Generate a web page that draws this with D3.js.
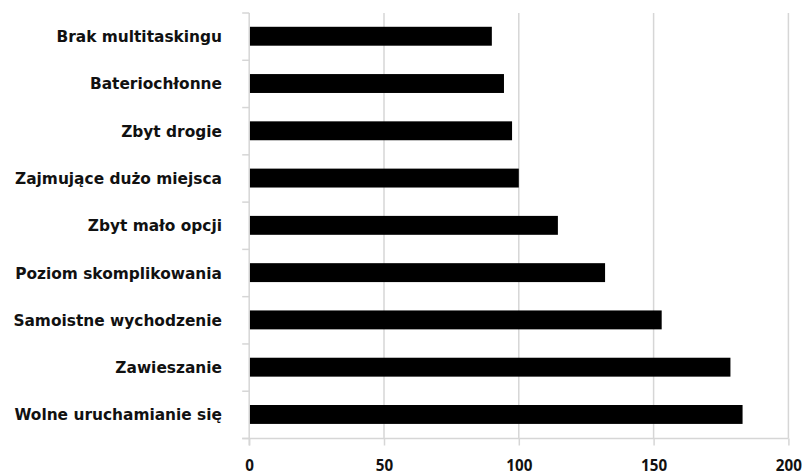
<!DOCTYPE html>
<html>
<head>
<meta charset="utf-8">
<script src="https://cdn.jsdelivr.net/npm/d3@7"></script>
<style>
  html, body { margin: 0; padding: 0; background: #fff; }
  svg { display: block; }
</style>
</head>
<body>
<script>
// Reasons listed from top to bottom
const categories = [
  "Brak multitaskingu",
  "Bateriochłonne",
  "Zbyt drogie",
  "Zajmujące dużo miejsca",
  "Zbyt mało opcji",
  "Poziom skomplikowania",
  "Samoistne wychodzenie",
  "Zawieszanie",
  "Wolne uruchamianie się"
];
const values = [90, 94.5, 97.5, 100, 114.5, 132, 153, 178.5, 183];
const xTicks = [0, 50, 100, 150, 200];

const W = 806, H = 475;
const plotLeft = 249.2, plotRight = 788.4, plotTop = 13, plotBottom = 438.5;

const svg = d3.select("body").append("svg")
  .attr("width", W).attr("height", H);

const x = d3.scaleLinear().domain([0, 200]).range([plotLeft, plotRight]);
const y = d3.scaleBand().domain(categories).range([plotTop, plotBottom])
  .paddingInner(0.6).paddingOuter(0.3);

const gridColor = "#d6d6d6";

// vertical gridlines
svg.append("g").selectAll("line")
  .data(xTicks.filter(d => d > 0))
  .join("line")
  .attr("x1", d => x(d)).attr("x2", d => x(d))
  .attr("y1", plotTop).attr("y2", plotBottom)
  .attr("stroke", gridColor).attr("stroke-width", 1.5);

// bars
svg.append("g").selectAll("rect")
  .data(categories)
  .join("rect")
  .attr("x", x(0))
  .attr("y", d => y(d) - 0.4)
  .attr("width", (d, i) => x(values[i]) - x(0))
  .attr("height", y.bandwidth())
  .attr("fill", "#000");

// category axis: line plus ticks at band boundaries
const step = (plotBottom - plotTop) / categories.length;
const yAxis = svg.append("g");
yAxis.append("line")
  .attr("x1", plotLeft).attr("x2", plotLeft)
  .attr("y1", plotTop).attr("y2", plotBottom + 7)
  .attr("stroke", gridColor).attr("stroke-width", 1.5);
yAxis.selectAll("line.tick")
  .data(d3.range(categories.length + 1))
  .join("line").attr("class", "tick")
  .attr("x1", plotLeft - 7).attr("x2", plotLeft)
  .attr("y1", i => plotTop + i * step).attr("y2", i => plotTop + i * step)
  .attr("stroke", gridColor).attr("stroke-width", 1.5);
yAxis.selectAll("text")
  .data(categories)
  .join("text")
  .attr("x", 222)
  .attr("y", d => y(d) + y.bandwidth() / 2)
  .attr("dy", "0.36em")
  .attr("text-anchor", "end")
  .attr("font-family", "DejaVu Sans, sans-serif")
  .attr("font-weight", "bold")
  .attr("font-size", 15.4)
  .attr("fill", "#111")
  .text(d => d);

// value axis
const xAxis = d3.axisBottom(x).tickValues(xTicks).tickSize(7).tickSizeOuter(0).tickPadding(0);
const gx = svg.append("g").attr("transform", `translate(0,${plotBottom})`).call(xAxis);
gx.select(".domain").attr("stroke", gridColor).attr("stroke-width", 1.5)
  .attr("d", `M${plotLeft - 7},0H${plotRight}`);
gx.selectAll(".tick line").attr("stroke", gridColor).attr("stroke-width", 1.5);
gx.selectAll(".tick text")
  .attr("y", 32.5)
  .attr("dy", null)
  .attr("font-family", "Open Sans, sans-serif")
  .attr("font-weight", "bold")
  .attr("font-size", 15.2)
  .attr("fill", "#111");
</script>
</body>
</html>
